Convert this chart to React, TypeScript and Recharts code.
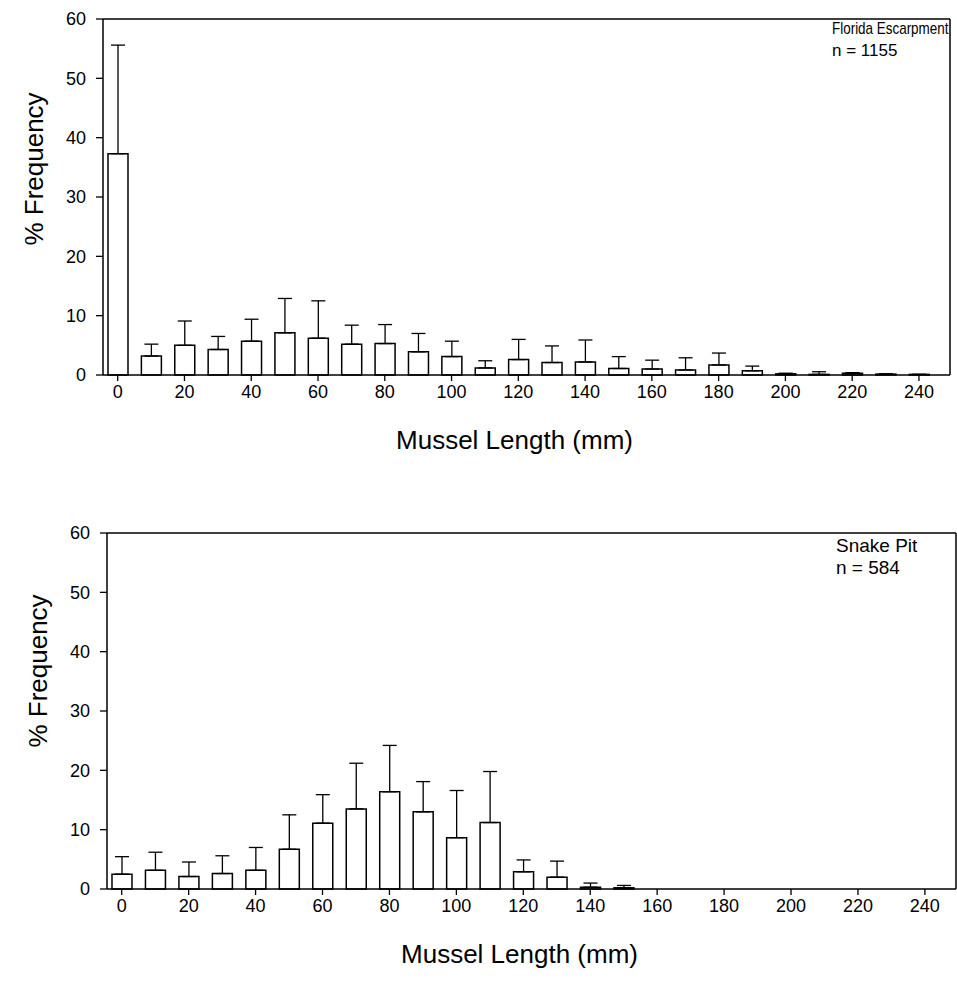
import React from 'react';
import { BarChart, Bar, XAxis, YAxis, ErrorBar, ReferenceLine } from 'recharts';

const lengths = [0, 10, 20, 30, 40, 50, 60, 70, 80, 90, 100, 110, 120, 130, 140, 150, 160, 170, 180, 190, 200, 210, 220, 230, 240];
const floridaFreq = [37.3, 3.2, 5.0, 4.3, 5.7, 7.1, 6.2, 5.2, 5.3, 3.9, 3.1, 1.2, 2.6, 2.1, 2.2, 1.1, 1.0, 0.85, 1.7, 0.7, 0.2, 0.1, 0.3, 0.15, 0.1];
const floridaSd = [18.3, 2.0, 4.1, 2.2, 3.7, 5.8, 6.3, 3.2, 3.2, 3.1, 2.6, 1.2, 3.4, 2.8, 3.7, 2.0, 1.5, 2.05, 2.0, 0.8, 0.1, 0.45, 0.1, 0.05, 0];
const snakeFreq = [2.5, 3.15, 2.1, 2.6, 3.15, 6.7, 11.1, 13.5, 16.4, 13.0, 8.65, 11.2, 2.9, 2.0, 0.3, 0.2, 0, 0, 0, 0, 0, 0, 0, 0, 0];
const snakeSd = [2.95, 3.05, 2.45, 3.0, 3.85, 5.8, 4.8, 7.7, 7.8, 5.1, 7.95, 8.6, 2.0, 2.7, 0.7, 0.4, 0, 0, 0, 0, 0, 0, 0, 0, 0];
const xTicks = [0, 20, 40, 60, 80, 100, 120, 140, 160, 180, 200, 220, 240];
const yTicks = [0, 10, 20, 30, 40, 50, 60];

const X_DOMAIN: [number, number] = [-4.4, 249.3];
const FONT = '"Liberation Sans", Arial, Helvetica, sans-serif';

type PanelProps = {
  freq: number[];
  sd: number[];
  site: string;
  n: string;
  top: number;
  left: number;
  width: number;
  height: number;
  marginTop: number;
  marginBottom: number;
  marginRight: number;
  yAxisWidth: number;
  yLabelDy: number;
  noteLeft: number;
  noteTop: number;
  noteSize: number;
  noteLine: number;
  siteScale: number;
};

function Panel(p: PanelProps) {
  const data = lengths.map((len, i) => ({ len, freq: p.freq[i], err: [0, p.sd[i]] }));
  return (
    <div style={{ position: 'absolute', left: p.left, top: p.top, width: p.width, height: p.height }}>
      <BarChart
        width={p.width}
        height={p.height}
        data={data}
        margin={{ top: p.marginTop, right: p.marginRight, bottom: p.marginBottom, left: 0 }}
        style={{ fontFamily: FONT }}
      >
        <XAxis
          dataKey="len"
          type="number"
          domain={X_DOMAIN}
          ticks={xTicks}
          interval={0}
          height={80}
          tickSize={6}
          tickMargin={4}
          axisLine={{ stroke: '#000', strokeWidth: 1.5 }}
          tickLine={{ stroke: '#000', strokeWidth: 1.3 }}
          tick={{ fill: '#000', fontSize: 18, fontFamily: FONT }}
          allowDataOverflow
          label={{ value: 'Mussel Length (mm)', position: 'insideBottom', offset: 6, dx: -12, style: { fill: '#000', fontSize: 26, fontFamily: FONT } } as any}
        />
        <YAxis
          type="number"
          domain={[0, 60]}
          ticks={yTicks}
          interval={0}
          width={p.yAxisWidth}
          tickSize={7}
          tickMargin={10}
          axisLine={{ stroke: '#000', strokeWidth: 1.5 }}
          tickLine={{ stroke: '#000', strokeWidth: 1.3 }}
          tick={{ fill: '#000', fontSize: 18, fontFamily: FONT }}
          label={{ value: '% Frequency', angle: -90, position: 'center', dx: -18, dy: p.yLabelDy, style: { fill: '#000', fontSize: 26, fontFamily: FONT } } as any}
        />
        <ReferenceLine y={60} stroke="#000" strokeWidth={1.5} ifOverflow="extendDomain" />
        <ReferenceLine x={X_DOMAIN[1]} stroke="#000" strokeWidth={1.5} ifOverflow="visible" />
        <Bar dataKey="freq" fill="#fff" stroke="#000" strokeWidth={1.5} barSize={20} isAnimationActive={false}>
          <ErrorBar dataKey="err" width={7} stroke="#000" strokeWidth={1.3} direction="y" />
        </Bar>
      </BarChart>
      <div
        style={{
          position: 'absolute',
          left: p.noteLeft,
          top: p.noteTop,
          fontFamily: FONT,
          fontSize: p.noteSize,
          lineHeight: `${p.noteLine}px`,
          color: '#000',
          whiteSpace: 'nowrap',
        }}
      >
        <div style={{ transform: `scaleX(${p.siteScale})`, transformOrigin: 'left center' }}>{p.site}</div>
        <div>{p.n}</div>
      </div>
    </div>
  );
}

export default function App() {
  return (
    <div style={{ position: 'absolute', left: 0, top: 0, width: 957, height: 981, background: '#fff', overflow: 'hidden' }}>
      <Panel
        freq={floridaFreq}
        sd={floridaSd}
        site="Florida Escarpment"
        n="n = 1155"
        top={0}
        left={0}
        width={957}
        height={490}
        marginTop={19}
        marginBottom={35}
        marginRight={7}
        yAxisWidth={103}
        yLabelDy={-28}
        noteLeft={832}
        noteTop={18}
        noteSize={17}
        noteLine={22}
        siteScale={0.79}
      />
      <Panel
        freq={snakeFreq}
        sd={snakeSd}
        site="Snake Pit"
        n="n = 584"
        top={490}
        left={4}
        width={953}
        height={491}
        marginTop={43}
        marginBottom={12}
        marginRight={1}
        yAxisWidth={103}
        yLabelDy={-40}
        noteLeft={832}
        noteTop={45}
        noteSize={19}
        noteLine={22}
        siteScale={1}
      />
    </div>
  );
}
